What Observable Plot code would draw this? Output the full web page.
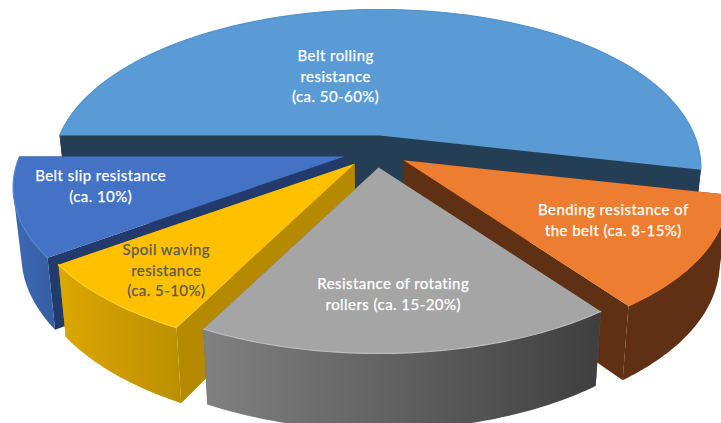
<!DOCTYPE html>
<html><head><meta charset="utf-8">
<script src="https://cdn.jsdelivr.net/npm/d3@7"></script>
<script src="https://cdn.jsdelivr.net/npm/@observablehq/plot@0.6"></script>
<style>html,body{margin:0;padding:0;background:#fff;overflow:hidden}</style>
</head><body><div id="chart"></div>
<script>
// Data (share of the whole pie, percent)
const names = ["Belt rolling\nresistance\n(ca. 50-60%)", "Bending resistance of\nthe belt (ca. 8-15%)", "Resistance of rotating\nrollers (ca. 15-20%)", "Spoil waving\nresistance\n(ca. 5-10%)", "Belt slip resistance\n(ca. 10%)"];
const shares = [53.5, 11.5, 17.5, 7.5, 10];
const topColors = ["#5b9bd5", "#ed7d31", "#a5a5a5", "#ffc000", "#4472c4"];
const innerColors = ["#243f55", "#5f3013", "#636363", "#b58900", "#223a6c"];
const outerFills = ["#243f55", "#5f3013", "url(#wallGray)", "url(#wallGold)", "url(#wallBlue)"];
const rimColors = ["#5594cd", "#ee8238", "#bcbcbc", "#ffd034", "#5a86d2"];
const textColors = ["#ffffff", "#ffffff", "#ffffff", "#595959", "#ffffff"];
// label placement on the slice: polar angle (deg) and fraction of the radius
const labelAngles = [109.3, -31.3, -86.9, -129.6, -165.3];
const labelRadii = [0.45, 0.714, 0.728, 0.812, 0.759];
// drawn radius of each slice relative to the model's radius
const rimRadii = [1, 1.01, 1, 1.013, 1.016];
// back-to-front drawing order
const drawOrder = [0, 4, 1, 3, 2];

// Perspective pie model
const cx = 375.5, cy = 151, explodeX = 33, explodeY = 16;
const f = 320, g = 150.3, k = 0.192;
const rad = d => d * Math.PI / 180;
let cum = 0;
const slices = shares.map((s, i) => {
  const a0 = 180 - 3.6 * cum; cum += s;
  const a1 = 180 - 3.6 * cum;
  const mid = (a0 + a1) / 2;
  return {i, a0, a1, ax: cx + explodeX * Math.cos(rad(mid)), ay: cy - explodeY * Math.sin(rad(mid))};
});
function project(sl, angle, r) {
  let X = r * Math.cos(rad(angle));
  const Y = r * Math.sin(rad(angle)), w = 1 + k * Y;
  X *= 1 - 0.016 * Math.pow(Math.max(0, X), 4); // the right rim is a little narrower in the picture
  return {x: sl.ax + f * X / w, y: sl.ay - g * Y / w};
}
const lower = p => ({x: cx + (p.x - cx) * 0.977, y: p.y * 1.05 + 59});
function arc(sl) {
  const n = Math.ceil(Math.abs(sl.a1 - sl.a0));
  return d3.range(n + 1).map(j => project(sl, sl.a0 + (sl.a1 - sl.a0) * j / n, rimRadii[sl.i]));
}
const poly = (pts, fill) => Plot.line(pts, {x: "x", y: "y", fill, stroke: "none", curve: "linear"});
const hull = pts => d3.polygonHull(pts.map(p => [p.x, p.y])).map(([x, y]) => ({x, y}));

const marks = [];
for (const i of drawOrder) {
  const sl = slices[i], top = arc(sl), apex = {x: sl.ax, y: sl.ay};
  // the two cut faces
  for (const c of [top[0], top[top.length - 1]]) {
    marks.push(poly([apex, c, lower(c), lower(apex)], innerColors[i]));
  }
  // outer wall: everything swept by the rim going down
  marks.push(poly(hull([...top, ...top.map(lower)]), outerFills[i]));
  // top face and its lit rim
  marks.push(poly([apex, ...top], topColors[i]));
  marks.push(Plot.line(top, {x: "x", y: "y", stroke: rimColors[i], strokeWidth: 1.2, curve: "linear"}));
}
const labels = slices.map(sl => ({...project(sl, labelAngles[sl.i], labelRadii[sl.i]), text: names[sl.i], color: textColors[sl.i]}));
marks.push(Plot.text(labels, {x: "x", y: "y", dy: -1.5, text: "text", fill: "color", stroke: "color", strokeWidth: 0.25, fontSize: 15, lineHeight: 1.38, textAnchor: "middle", fontFamily: "Lato"}));

const chart = Plot.plot({
  width: 721, height: 423, margin: 0,
  style: {letterSpacing: "0.45px"},
  x: {type: "linear", domain: [0, 721], range: [0, 721], axis: null},
  y: {type: "linear", domain: [0, 423], range: [0, 423], axis: null},
  color: {type: "identity"},
  marks
});
d3.select(chart).append("defs").html(`
  <linearGradient id="wallGray" gradientUnits="userSpaceOnUse" x1="205" x2="600" y1="0" y2="0"><stop offset="0" stop-color="#808080"/><stop offset="1" stop-color="#3f3f3f"/></linearGradient>
  <linearGradient id="wallGold" gradientUnits="userSpaceOnUse" x1="60" x2="190" y1="0" y2="0"><stop offset="0" stop-color="#dba700"/><stop offset="1" stop-color="#b98d00"/></linearGradient>
  <linearGradient id="wallBlue" gradientUnits="userSpaceOnUse" x1="15" x2="60" y1="0" y2="0"><stop offset="0" stop-color="#3d69b4"/><stop offset="1" stop-color="#345b9e"/></linearGradient>`);
document.getElementById("chart").append(chart);
</script></body></html>
